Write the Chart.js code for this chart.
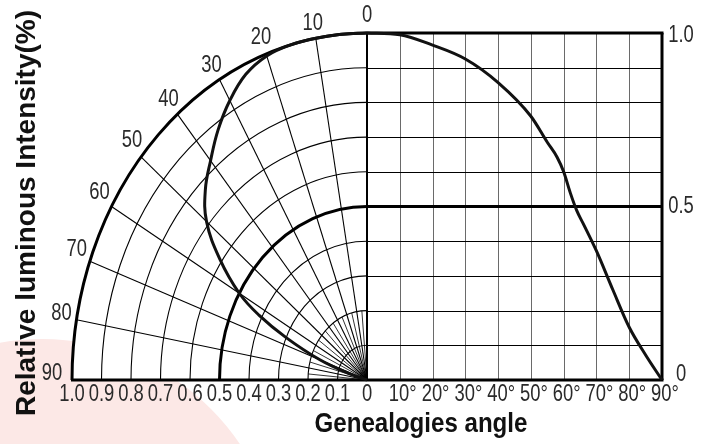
<!DOCTYPE html>
<html><head><meta charset="utf-8">
<script src="https://cdn.jsdelivr.net/npm/chart.js@4.4.1/dist/chart.umd.min.js"></script>
<style>html,body{margin:0;padding:0;background:#fff;}canvas{display:block;}</style>
</head><body>
<canvas id="c" width="711" height="444"></canvas>
<script>
// ---- data ----
const polarAngles = [0, 5, 10, 15, 20, 25, 30, 35, 40, 45, 50, 55, 60, 63, 66, 70, 73, 76];
const polarValues = [1.0, 1.0, 1.0, 1.0, 0.994, 0.972, 0.93, 0.88, 0.825, 0.775, 0.71, 0.61, 0.50, 0.41, 0.30, 0.17, 0.07, 0];

const cartAngles = [0, 10, 20, 30, 40, 50, 55, 58, 60, 62, 64, 66, 70, 75, 80, 85, 90];
const cartValues = [1.0, 0.995, 0.965, 0.925, 0.857, 0.76, 0.685, 0.642, 0.60, 0.54, 0.488, 0.45, 0.372, 0.26, 0.152, 0.072, 0];

const radiusTicks = [1.0, 0.9, 0.8, 0.7, 0.6, 0.5, 0.4, 0.3, 0.2, 0.1, 0];
const radiusLabels = ['1.0', '0.9', '0.8', '0.7', '0.6', '0.5', '0.4', '0.3', '0.2', '0.1', '0'];
const angleTicks = [10, 20, 30, 40, 50, 60, 70, 80, 90];
const angleLabels = ['10°', '20°', '30°', '40°', '50°', '60°', '70°', '80°', '90°'];
const polarLabelAngles = [0, 10, 20, 30, 40, 50, 60, 70, 80, 90];
const polarLabels = ['0', '10', '20', '30', '40', '50', '60', '70', '80', '90'];
const rightTicks = [1.0, 0.5, 0];
const rightLabels = ['1.0', '0.5', '0'];
const gridRadii = [0.1, 0.2, 0.3, 0.4, 0.5, 0.6, 0.7, 0.8, 0.9];
const gridLevels = [0.1, 0.2, 0.3, 0.4, 0.6, 0.7, 0.8, 0.9];

// ---- styling ----
const TICK_FONT = '23px "Liberation Sans", Arial, sans-serif';
const TICK_SQUEEZE = 0.8;
const TITLE_FONT = 'bold 28px "Liberation Sans", Arial, sans-serif';
const INK = '#111';
const polarLabelOffsets = [[0,-17],[-3,-15],[-5,-16],[-8,-14],[-9,-15],[-9,-16],[-12,-14],[-13,-12],[-15,-6],[-20,-6]];

const rad = d => d * Math.PI / 180;
const polarPoints = polarAngles.map((a, i) => ({ x: -polarValues[i] * Math.sin(rad(a)), y: polarValues[i] * Math.cos(rad(a)) }));
const cartPoints = cartAngles.map((a, i) => ({ x: a / 90, y: cartValues[i] }));

function geo(chart) {
  const xs = chart.scales.x, ys = chart.scales.y;
  const cx = xs.getPixelForValue(0), cy = ys.getPixelForValue(0);
  return { xs, ys, cx, cy, rx: cx - xs.getPixelForValue(-1), ry: cy - ys.getPixelForValue(1) };
}
function line(ctx, x1, y1, x2, y2) { ctx.beginPath(); ctx.moveTo(x1, y1); ctx.lineTo(x2, y2); ctx.stroke(); }
function arc(ctx, g, r) { ctx.beginPath(); ctx.ellipse(g.cx, g.cy, g.rx * r, g.ry * r, 0, Math.PI, 1.5 * Math.PI); ctx.stroke(); }
function tickText(ctx, t, x, y) {
  ctx.save(); ctx.translate(x, y); ctx.scale(TICK_SQUEEZE, 1); ctx.fillText(t, 0, 0); ctx.restore();
}

const plugin = {
  id: 'polarGrid',
  beforeDraw(chart) {
    const ctx = chart.ctx, g = geo(chart);
    ctx.save();
    ctx.fillStyle = '#fff'; ctx.fillRect(0, 0, chart.width, chart.height);
    ctx.fillStyle = '#fce8e6';
    ctx.beginPath(); ctx.arc(42, 578, 239, 0, 2 * Math.PI); ctx.fill();
    ctx.fillStyle = '#fff';
    ctx.beginPath(); ctx.moveTo(g.cx, g.cy); ctx.ellipse(g.cx, g.cy, g.rx, g.ry, 0, Math.PI, 1.5 * Math.PI); ctx.closePath(); ctx.fill();
    ctx.restore();
  },
  beforeDatasetsDraw(chart) {
    const ctx = chart.ctx, g = geo(chart), xs = g.xs, ys = g.ys;
    ctx.save();
    ctx.strokeStyle = '#000'; ctx.lineWidth = 1.1;
    gridRadii.forEach(r => arc(ctx, g, r));
    for (let a = 10; a <= 80; a += 10) {
      line(ctx, g.cx, g.cy, g.cx - g.rx * Math.sin(rad(a)), g.cy - g.ry * Math.cos(rad(a)));
    }
    ctx.lineWidth = 0.8;
    for (let a = 5; a <= 85; a += 10) {
      line(ctx, g.cx, g.cy, g.cx - 0.2 * g.rx * Math.sin(rad(a)), g.cy - 0.2 * g.ry * Math.cos(rad(a)));
    }
    // right cartesian grid
    const x0 = xs.getPixelForValue(0), x1 = xs.getPixelForValue(1);
    const yT = ys.getPixelForValue(1);
    ctx.lineWidth = 1;
    ctx.strokeStyle = '#6a6a6a';
    angleTicks.slice(0, 8).forEach(a => { const x = Math.round(xs.getPixelForValue(a / 90)) + 0.5; line(ctx, x, yT, x, g.cy); });
    ctx.strokeStyle = '#000';
    gridLevels.forEach(v => { const y = Math.round(ys.getPixelForValue(v)) + 0.5; line(ctx, x0, y, x1, y); });
    // heavy frame lines
    ctx.lineWidth = 3;
    arc(ctx, g, 1.0); arc(ctx, g, 0.5);
    line(ctx, x0, ys.getPixelForValue(0.5), x1, ys.getPixelForValue(0.5));
    line(ctx, x0, yT, x1 + 1.5, yT);
    line(ctx, x1, yT, x1, g.cy);
    line(ctx, xs.getPixelForValue(-1) - 1, g.cy, x1 + 1.5, g.cy);
    ctx.lineWidth = 2;
    line(ctx, x0, yT, x0, g.cy);
    ctx.restore();
  },
  afterDraw(chart) {
    const ctx = chart.ctx, g = geo(chart), xs = g.xs, ys = g.ys;
    ctx.save();
    ctx.fillStyle = '#2a2a2a';
    ctx.font = TICK_FONT;
    ctx.textAlign = 'center'; ctx.textBaseline = 'middle';
    radiusTicks.forEach((r, i) => tickText(ctx, radiusLabels[i], xs.getPixelForValue(-r), g.cy + 15));
    angleTicks.forEach((a, i) => tickText(ctx, angleLabels[i], xs.getPixelForValue(a / 90) + 3, g.cy + 15));
    rightTicks.forEach((v, i) => {
      const dy = v === 1 ? 3 : (v === 0 ? -5 : 0);
      tickText(ctx, rightLabels[i], xs.getPixelForValue(1) + 19, ys.getPixelForValue(v) + dy);
    });
    polarLabelAngles.forEach((a, i) => {
      const px = g.cx - g.rx * Math.sin(rad(a)), py = g.cy - g.ry * Math.cos(rad(a));
      const o = polarLabelOffsets[i];
      tickText(ctx, polarLabels[i], px + o[0], py + o[1]);
    });
    // axis titles
    ctx.fillStyle = INK;
    ctx.font = TITLE_FONT;
    ctx.textAlign = 'center'; ctx.textBaseline = 'alphabetic';
    ctx.save();
    ctx.translate(421, 432); ctx.scale(0.86, 1);
    ctx.fillText('Genealogies angle', 0, 0);
    ctx.restore();
    ctx.save();
    ctx.translate(35, 213); ctx.rotate(-Math.PI / 2);
    ctx.fillText('Relative luminous Intensity(%)', 0, 0);
    ctx.restore();
    ctx.restore();
  }
};

new Chart(document.getElementById('c'), {
  type: 'scatter',
  data: {
    datasets: [
      { data: polarPoints, showLine: true, borderColor: INK, borderWidth: 3, pointRadius: 0, tension: 0.4, clip: false },
      { data: cartPoints, showLine: true, borderColor: INK, borderWidth: 3, pointRadius: 0, cubicInterpolationMode: 'monotone', clip: false }
    ]
  },
  options: {
    responsive: false,
    animation: false,
    layout: { padding: { left: 72, right: 49, top: 33, bottom: 64 } },
    plugins: { legend: { display: false }, tooltip: { enabled: false } },
    scales: {
      x: { type: 'linear', min: -1, max: 1, display: false },
      y: { type: 'linear', min: 0, max: 1, display: false }
    }
  },
  plugins: [plugin]
});
</script>
</body></html>
